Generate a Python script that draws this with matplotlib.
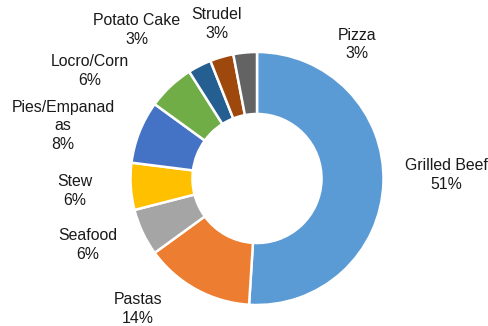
import matplotlib

matplotlib.use("Agg")
import matplotlib.pyplot as plt

# Share of dishes, clockwise from 12 o'clock
dishes = ["Grilled Beef", "Pastas", "Seafood", "Stew", "Pies/Empanadas",
          "Locro/Corn", "Potato Cake", "Strudel", "Pizza"]
shares = [51, 14, 6, 6, 8, 6, 3, 3, 3]
# label text as wrapped in the chart
label_names = ["Grilled Beef", "Pastas", "Seafood", "Stew", "Pies/Empanad\nas",
               "Locro/Corn", "Potato Cake", "Strudel", "Pizza"]

colors = ["#5B9BD5", "#ED7D31", "#A5A5A5", "#FFC000", "#4472C4",
          "#70AD47", "#255E91", "#9E480E", "#636363"]

# label block centres in pixels (x from left, y from top)
label_pos = [(446, 175), (138, 309), (88, 245), (75, 191), (63, 126),
             (90, 71), (137, 30), (217, 24), (357, 44.5)]

W, H = 488, 326
CX, CY, R = 257, 178.5, 126.5

plt.rcParams["font.family"] = ["Liberation Sans", "DejaVu Sans"]

fig = plt.figure(figsize=(W / 100, H / 100), dpi=100, facecolor="white")
ax = fig.add_axes([0, 0, 1, 1])

ax.pie(
    shares,
    colors=colors,
    startangle=90,
    counterclock=False,
    radius=R,
    center=(CX, H - CY),
    wedgeprops=dict(width=R * 0.49, edgecolor="white", linewidth=1.8),
)

for name, val, (x, y) in zip(label_names, shares, label_pos):
    ax.text(x, H - y, f"{name}\n{val}%", ha="center", va="center",
            fontsize=11.4, color="#1a1a1a", linespacing=1.32)

ax.set_xlim(0, W)
ax.set_ylim(0, H)
ax.set_aspect("equal")
ax.axis("off")

fig.savefig("out.png", dpi=100, facecolor="white")
